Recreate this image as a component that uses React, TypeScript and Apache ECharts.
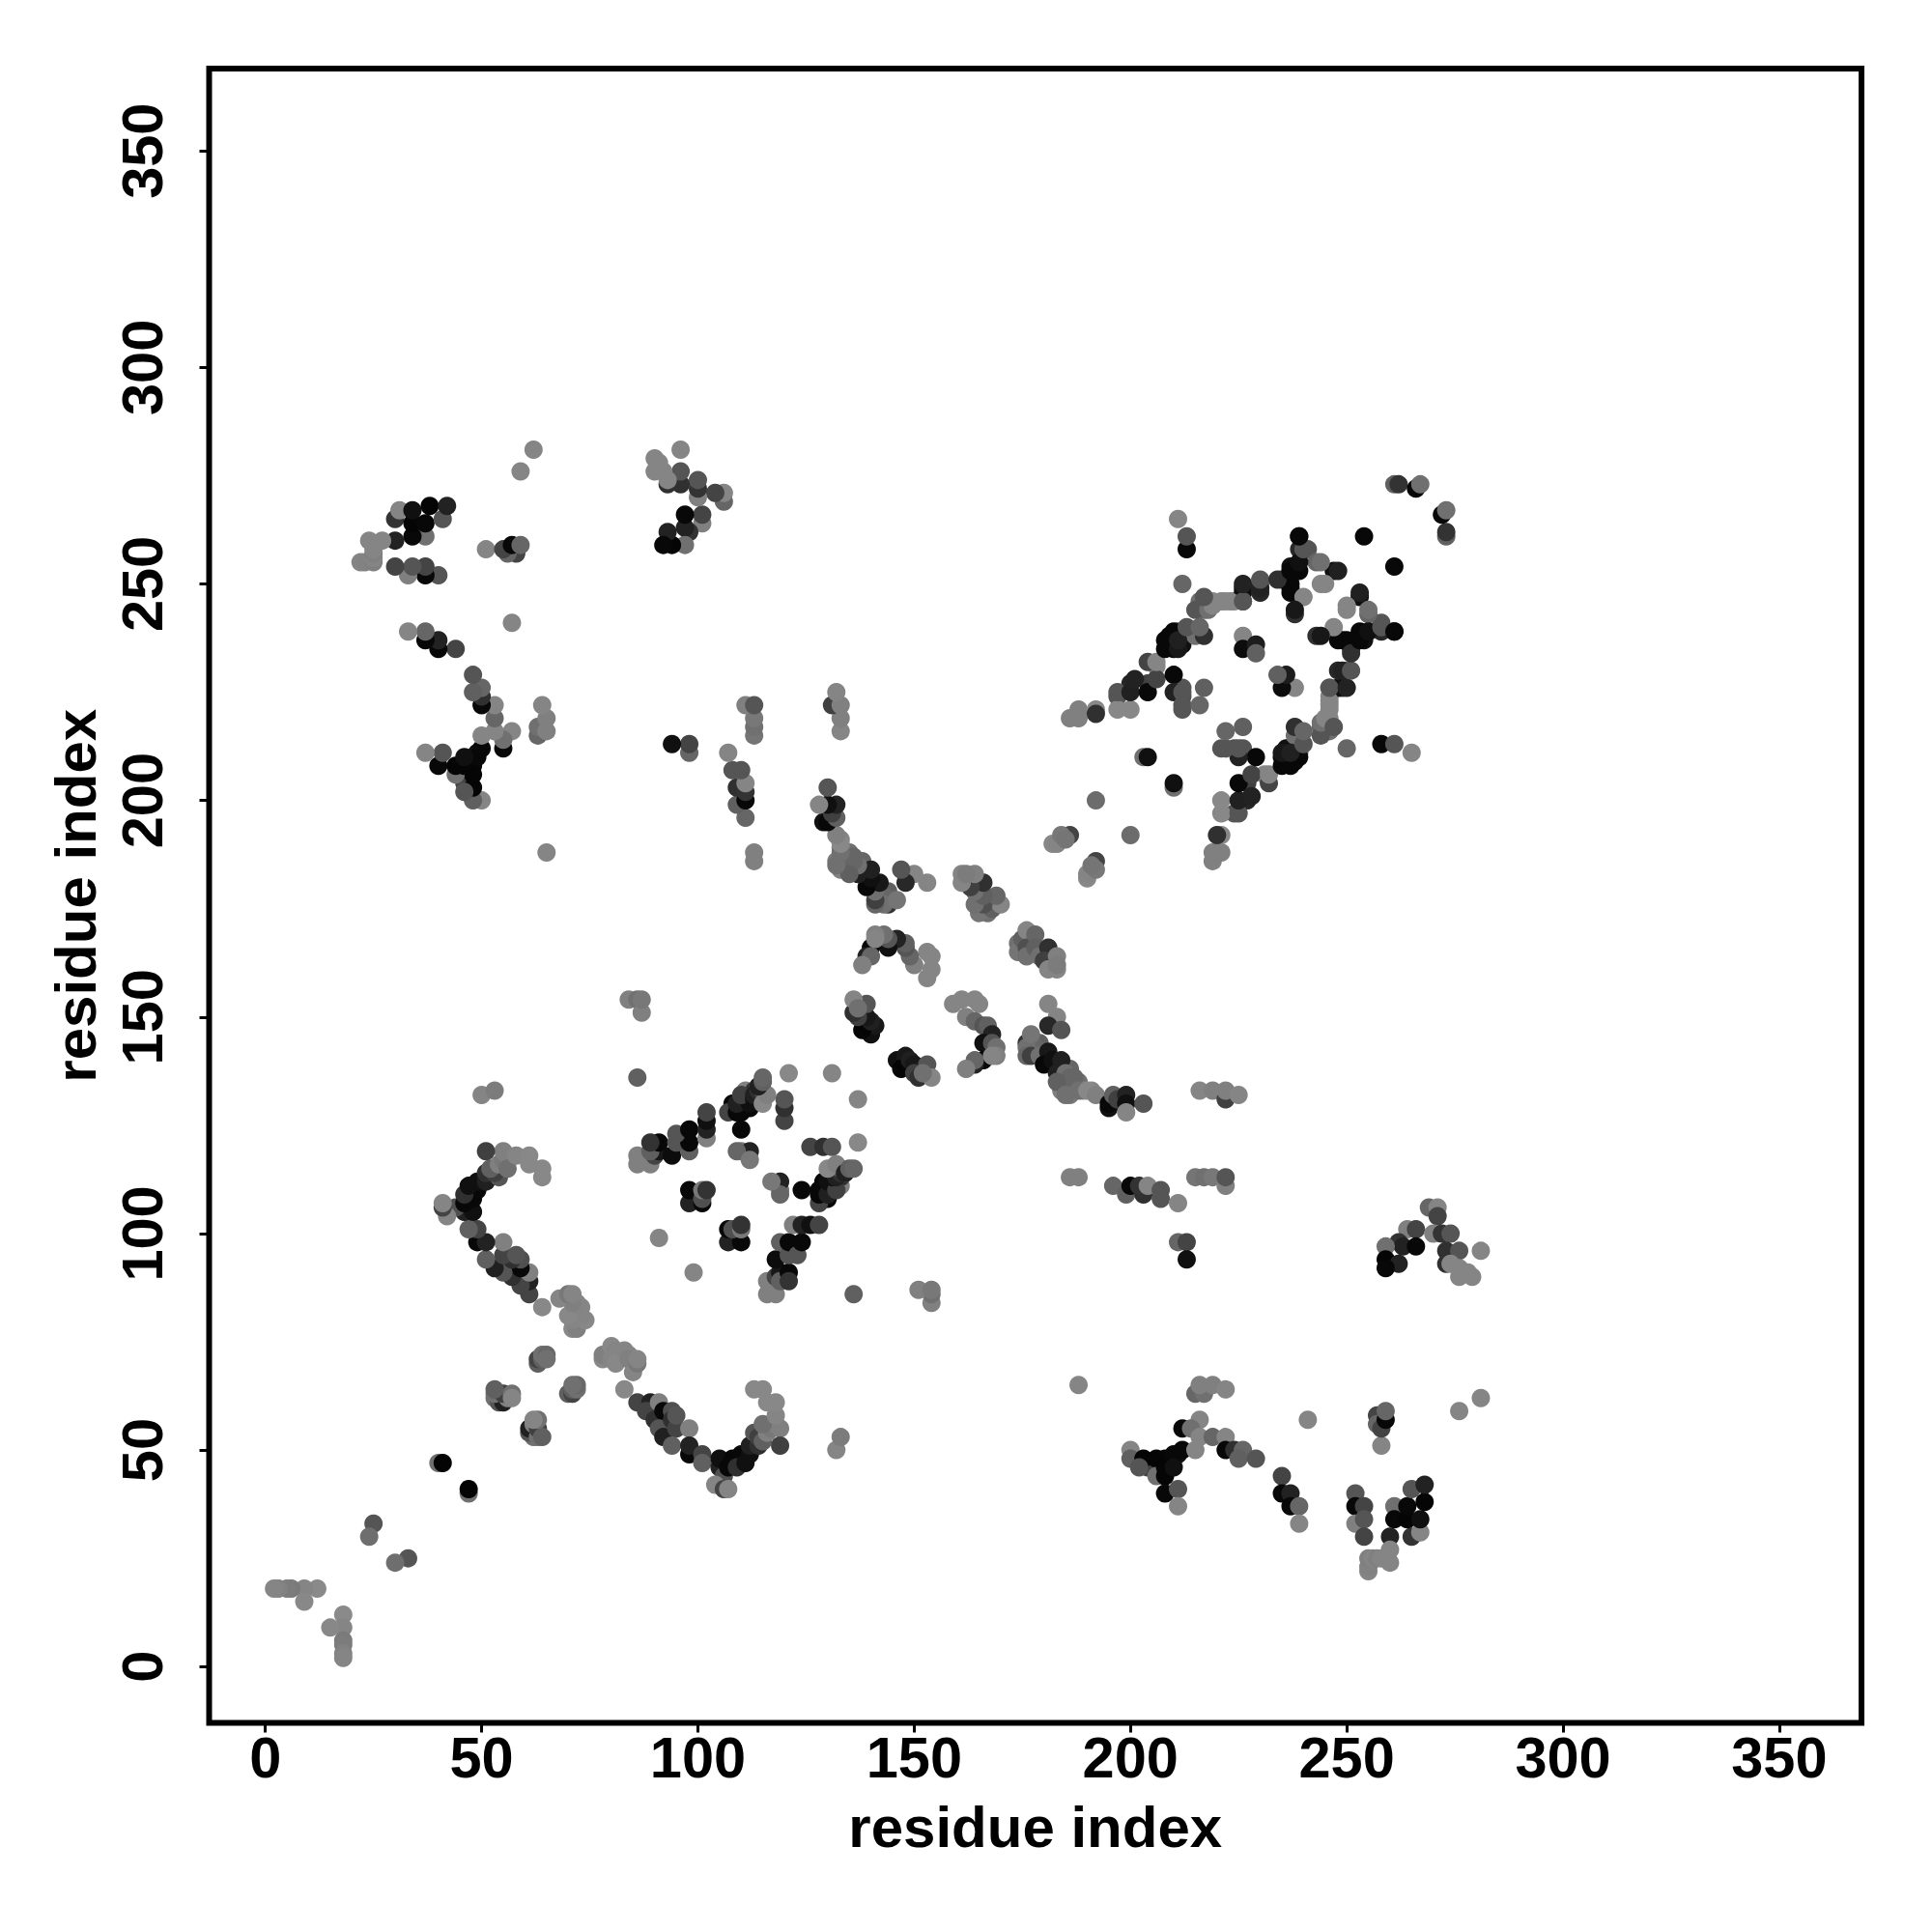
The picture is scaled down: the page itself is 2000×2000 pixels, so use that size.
import React, { useEffect, useRef } from "react";
import * as echarts from "echarts";

type Contact = [number, number, number];

const tickValues = [0, 50, 100, 150, 200, 250, 300, 350];
const axisName = "residue index";

// Contacts [residue i, residue j, grey level]; the map is symmetric.
const bandN: Contact[] = [[221,188,0x80],[224,197,0x55],[227,200,0x25],[227,204,0x40],[231,206,0x85],[226,212,0x55],[224,212,0x50],[221,212,0x55],[237,209,0x08],[235,210,0x0a],[236,212,0x10],[239,211,0x60],[239,213,0x50],[238,215,0x70],[246,216,0x70],[244,217,0x66],[246,219,0x88],[246,222,0x88],[246,224,0x88],[246,226,0x66],[249,226,0x28],[248,226,0x10],[250,230,0x66],[248,230,0x28],[238,226,0x85],[235,226,0x0c],[236,229,0x1c],[234,229,0x60],[239,210,0x08],[237,208,0x08]];
const bandO: Contact[] = [[261,239,0x08],[258,239,0x28],[258,241,0x55],[255,243,0x66],[253,247,0x10],[250,244,0x85],[251,235,0x28],[252,237,0x08],[254,237,0x10],[249,237,0x08],[253,239,0x08],[248,237,0x08],[243,238,0x30],[247,240,0x85]];
const boxUpper: Contact[] = [[130,108,0x08],[128,110,0x08],[129,112,0x08],[133,111,0x80],[133,113,0x30],[134,114,0x88]];
const coreP: Contact[] = [[195,129,0x10],[176,144,0x33],[186,133,0x70],[187,134,0x78],[184,134,0x70],[188,135,0x70],[186,138,0x66],[183,139,0x30],[179,144,0x60],[178,143,0x66],[191,133,0x85],[189,133,0x80],[186,132,0x78],[184,133,0x80],[184,136,0x70]];
const sideQ: Contact[] = [[208,48,0x08],[210,48,0x0c],[211,49,0x10],[204,46,0x44]];
const termini: Contact[] = [[18,12,0x8a],[18,9,0x85],[15,9,0x88],[18,6,0x7a],[18,5,0x7c],[18,3,0x82],[18,2,0x85],[33,25,0x55],[30,24,0x6e],[47,40,0x70],[47,41,0x04]];
const helixA: Contact[] = [[62,53,0x70],[61,54,0x55],[61,55,0x20],[63,53,0x70],[62,56,0x80],[63,55,0x40],[64,53,0x60],[63,57,0x70],[62,57,0x85],[70,63,0x60],[71,63,0x44],[71,64,0x60],[72,64,0x70],[72,65,0x68],[71,65,0x70]];
const strandB: Contact[] = [[78,71,0x88],[78,72,0x80],[80,71,0x85],[80,74,0x88],[81,73,0x85],[81,70,0x88],[83,73,0x85],[84,72,0x85],[84,71,0x80],[85,68,0x85],[86,70,0x78],[86,71,0x85],[83,64,0x88]];
const strandC: Contact[] = [[86,61,0x44],[89,61,0x22],[88,59,0x44],[91,61,0x80],[90,57,0x30],[92,59,0x08],[94,59,0x50],[91,55,0x55],[94,57,0x30],[92,53,0x20],[95,55,0x44],[95,58,0x55],[94,51,0x60],[98,55,0x80],[98,49,0x08],[98,51,0x22],[101,49,0x44],[101,47,0x60],[105,46,0x22],[106,44,0x50],[105,48,0x10],[107,46,0x08],[108,48,0x08],[110,49,0x08],[109,46,0x30],[111,47,0x10],[112,49,0x10],[112,51,0x20],[114,51,0x30],[113,54,0x55],[114,53,0x40],[115,52,0x60],[104,42,0x85],[106,41,0x44],[107,41,0x85],[116,54,0x80],[117,55,0x78],[118,56,0x80],[119,55,0x80],[119,51,0x40],[115,56,0x70],[118,58,0x85],[118,61,0x88],[113,64,0x88],[115,64,0x88],[116,61,0x88],[132,50,0x85],[133,53,0x7c]];
const boxLower: Contact[] = [[116,86,0x80],[118,86,0x80],[116,89,0x80],[118,90,0x44],[119,91,0x18],[119,89,0x60],[118,94,0x0c],[119,98,0x60],[121,91,0x08],[121,89,0x33],[121,95,0x55],[121,98,0x08],[123,95,0x55],[124,98,0x08],[122,102,0x80],[124,102,0x22],[126,102,0x10],[128,102,0x44],[99,91,0x85],[136,86,0x60],[154,84,0x80],[154,86,0x70],[151,87,0x80],[154,87,0x78]];
const boxRight: Contact[] = [[107,98,0x22],[110,98,0x08],[107,101,0x08],[108,101,0x50],[110,101,0x78],[110,102,0x33],[119,110,0x78],[119,112,0x22],[119,109,0x66],[117,112,0x78],[124,110,0x08],[126,120,0x44],[129,120,0x30],[131,120,0x55],[128,107,0x44],[128,109,0x08],[129,110,0x08],[130,109,0x20],[130,112,0x10],[132,110,0x40],[131,113,0x10],[132,113,0x20],[133,114,0x30],[133,115,0x55],[130,115,0x88],[132,116,0x80],[134,114,0x20],[135,115,0x60],[136,115,0x66],[137,121,0x88],[137,131,0x85]];
const coreD: Contact[] = [[146,140,0x10],[148,141,0x18],[147,138,0x05],[149,140,0x20],[150,139,0x18],[150,137,0x40],[151,136,0x30],[153,139,0x55],[154,136,0x85],[152,137,0x70],[159,153,0x85],[161,154,0x85],[162,150,0x80],[164,154,0x85],[165,153,0x85],[164,149,0x66],[166,148,0x55],[167,148,0x60],[168,146,0x22],[166,144,0x10],[168,144,0x55],[169,143,0x70],[166,140,0x08],[164,139,0x22],[164,140,0x66],[162,138,0x80],[169,141,0x80],[168,141,0x85]];
const coreE: Contact[] = [[174,167,0x70],[174,165,0x75],[175,168,0x60],[176,170,0x85],[176,166,0x50],[176,164,0x70],[178,169,0x66],[178,166,0x60],[179,164,0x70],[181,166,0x30],[180,163,0x40],[181,161,0x85],[183,161,0x85],[183,164,0x80],[183,162,0x7c]];
const coreF: Contact[] = [[176,143,0x70],[177,146,0x75],[176,141,0x66],[177,141,0x40],[179,141,0x70],[181,142,0x18],[180,139,0x08],[182,140,0x10],[184,140,0x20],[183,137,0x20],[185,137,0x70],[186,136,0x66],[183,135,0x60],[187,136,0x66],[185,132,0x70],[188,133,0x70],[190,133,0x88],[192,132,0x80],[195,130,0x08],[196,132,0x60],[197,131,0x40],[199,132,0x22],[199,130,0x10],[199,128,0x85],[203,130,0x55],[181,153,0x85],[183,150,0x85],[181,148,0x28],[184,147,0x55]];
const farG: Contact[] = [[192,186,0x44],[190,182,0x88],[190,183,0x85],[192,184,0x78],[191,185,0x75],[200,192,0x6c],[210,203,0x70],[210,204,0x10]];
const armH: Contact[] = [[219,186,0x80],[219,188,0x80],[221,192,0x88],[220,192,0x30],[221,197,0x88],[225,197,0x55],[221,200,0x88],[225,200,0x20],[228,201,0x22],[225,204,0x08],[228,206,0x44],[232,204,0x44],[232,206,0x85],[229,210,0x08],[225,210,0x22],[225,212,0x55],[222,212,0x55],[222,216,0x66],[226,217,0x60],[235,208,0x08],[236,210,0x08],[238,209,0x08],[235,211,0x18],[237,211,0x20],[240,213,0x55],[238,217,0x30],[240,216,0x66],[244,215,0x55],[244,218,0x70],[245,219,0x85],[246,221,0x85],[247,217,0x55],[246,223,0x85],[246,226,0x55],[250,226,0x22],[249,230,0x22],[251,230,0x55]];
const armI: Contact[] = [[244,238,0x18],[250,237,0x08],[251,236,0x08],[251,234,0x30],[253,237,0x08],[255,239,0x10],[258,240,0x55],[261,239,0x08],[250,245,0x85],[253,248,0x20],[255,244,0x70],[261,254,0x08],[250,212,0x66],[258,213,0x08],[261,213,0x55],[265,211,0x85],[273,261,0x60],[273,262,0x33],[272,266,0x08],[273,267,0x70]];
const sideJ: Contact[] = [[186,113,0x80],[188,113,0x80],[196,111,0x66],[199,109,0x60],[200,111,0x08],[203,109,0x30],[202,111,0x33],[204,111,0x85],[207,108,0x55],[207,110,0x55],[211,107,0x85],[215,113,0x75],[217,113,0x70],[219,113,0x78],[222,111,0x80],[222,113,0x55],[216,133,0x85],[219,133,0x80],[222,131,0x40],[222,133,0x80],[225,132,0x85],[211,98,0x66],[213,98,0x44],[213,94,0x10]];
const sideK: Contact[] = [[269,106,0x66],[271,106,0x85],[271,104,0x44],[264,101,0x80],[266,101,0x44],[262,98,0x33],[263,97,0x22],[266,97,0x08],[259,97,0x70],[259,94,0x05],[262,93,0x22],[259,92,0x08],[270,100,0x80],[272,100,0x33],[274,100,0x55],[273,96,0x30],[276,96,0x55],[281,96,0x85],[273,93,0x30],[274,93,0x85],[276,92,0x85],[276,90,0x85],[279,90,0x85],[278,91,0x85]];
const sideL: Contact[] = [[188,65,0x85],[215,63,0x66],[217,63,0x70],[216,65,0x80],[219,65,0x80],[222,64,0x85],[216,57,0x85],[212,55,0x08],[214,55,0x70],[216,53,0x85],[219,53,0x66],[222,53,0x85],[222,50,0x08],[224,50,0x30],[226,50,0x66],[225,48,0x60],[229,48,0x55],[200,50,0x85],[200,48,0x60],[203,48,0x05],[202,46,0x55],[206,48,0x05],[206,44,0x70],[208,46,0x05],[208,44,0x05],[210,49,0x08],[212,50,0x08],[210,46,0x10],[215,50,0x85],[208,40,0x08],[211,41,0x55],[211,37,0x85],[241,57,0x85]];
const sideM: Contact[] = [[235,44,0x44],[235,40,0x08],[237,40,0x22],[237,37,0x08],[239,37,0x66],[239,33,0x85],[252,40,0x55],[252,37,0x08],[252,33,0x80],[254,37,0x44],[254,34,0x55],[254,30,0x44],[258,51,0x85],[257,58,0x44],[257,56,0x66],[258,55,0x44],[259,57,0x08],[259,59,0x66],[261,37,0x70],[261,34,0x08],[260,30,0x22],[265,30,0x33],[264,34,0x05],[264,37,0x08],[265,41,0x55],[267,31,0x85],[267,34,0x10],[268,38,0x05],[268,42,0x22],[255,22,0x85],[255,23,0x82],[255,25,0x80],[256,25,0x85],[257,25,0x80],[258,25,0x85],[260,24,0x85],[260,27,0x85],[276,59,0x85],[281,62,0x85]];

const contacts: Contact[] = [...bandN, ...bandO, ...boxUpper, ...coreP, ...sideQ, ...termini, ...helixA, ...strandB, ...strandC, ...boxLower, ...boxRight, ...coreD, ...coreE, ...coreF, ...farG, ...armH, ...armI, ...sideJ, ...sideK, ...sideL, ...sideM];
const FONT = "Liberation Sans";

function grey(v: number): string {
  return `rgb(${v},${v},${v})`;
}

export default function App() {
  const ref = useRef<HTMLDivElement>(null);
  useEffect(() => {
    const chart = echarts.init(ref.current!, undefined, { renderer: "svg" });
    const points = contacts.flatMap(([i, j, g]) => [
      { value: [i, j], itemStyle: { color: grey(g) } },
      { value: [j, i], itemStyle: { color: grey(g) } },
    ]);
    const axisCommon = {
      type: "value" as const,
      min: -13,
      max: 369,
      name: axisName,
      nameLocation: "middle" as const,
      nameTextStyle: { fontFamily: FONT, fontWeight: "bold" as const, fontSize: 60, color: "#000" },
      splitLine: { show: false },
      axisLine: { show: false, onZero: false },
    };
    const tick = { show: true, length: 10, customValues: tickValues, lineStyle: { color: "#000", width: 3 } };
    const label = { fontFamily: FONT, fontWeight: "bold" as const, fontSize: 59.5, color: "#000", customValues: tickValues, showMinLabel: true, showMaxLabel: true, hideOverlap: false };
    chart.setOption({
      animation: false,
      backgroundColor: "#fff",
      grid: { show: true, left: 216.5, right: 73, top: 71, bottom: 216.5, borderColor: "#000", borderWidth: 6, backgroundColor: "transparent", containLabel: false },
      xAxis: { ...axisCommon, nameGap: 78, axisTick: tick, axisLabel: { ...label, margin: 6 } },
      yAxis: { ...axisCommon, nameGap: 108, axisTick: tick, axisLabel: { ...label, rotate: 90, margin: 39 } },
      series: [{ type: "scatter", symbol: "circle", symbolSize: 19, silent: true, data: points, itemStyle: { opacity: 1 } }],
    });
    return () => chart.dispose();
  }, []);
  return <div ref={ref} style={{ position: "absolute", left: 0, top: 0, width: 2000, height: 2000 }} />;
}
